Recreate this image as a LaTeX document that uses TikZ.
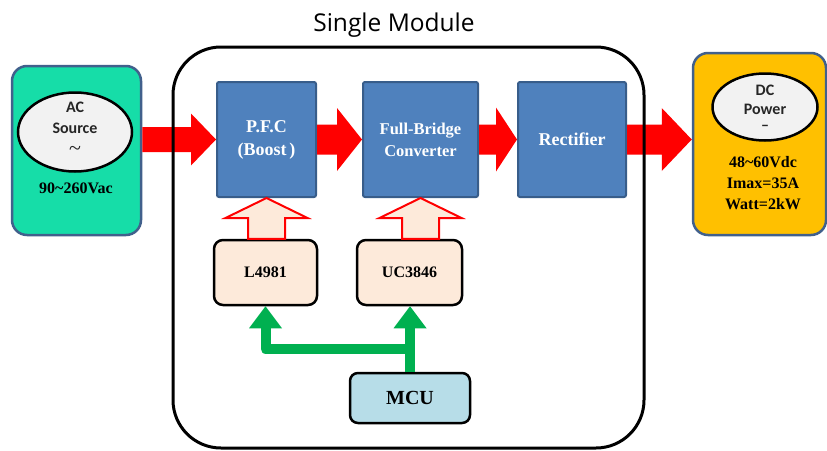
\documentclass[tikz,border=0pt]{standalone}
\usepackage{fontspec}
\setmainfont{Liberation Serif}
\newfontfamily\labelsans{Carlito}
\newfontfamily\titlesans{Open Sans}
\usetikzlibrary{shapes.geometric,calc}

\definecolor{acteal}{RGB}{22,221,168}
\definecolor{dcorange}{RGB}{255,192,0}
\definecolor{outerrim}{RGB}{65,96,140}
\definecolor{blockfill}{RGB}{79,129,189}
\definecolor{blockrim}{RGB}{56,93,138}
\definecolor{powerred}{RGB}{255,0,0}
\definecolor{peach}{RGB}{253,234,218}
\definecolor{ctrlgreen}{RGB}{0,176,80}
\definecolor{mcublue}{RGB}{183,221,232}
\definecolor{ovalgray}{RGB}{242,242,242}

% red power-flow arrow: from node #1 (east) to node #2 (west), centred on node #3,
% shaft half-height #4, head half-height #5, head length #6
\newcommand\powerflow[6]{%
  \fill[powerred] let \p1=(#1.east), \p2=(#2.west), \p3=(#3) in
    (\x1,\y3+#4) -- (\x2-#6,\y3+#4) -- (\x2-#6,\y3+#5) -- (\x2,\y3)
    -- (\x2-#6,\y3-#5) -- (\x2-#6,\y3-#4) -- (\x1,\y3-#4) -- cycle;}

% hollow control arrow: from the top of node #1 up to the bottom of node #2
\newcommand\ctrlup[2]{%
  \draw[powerred, fill=peach, line width=2pt, line join=miter]
    let \p1=(#1.north), \p2=(#2.south) in
    (\x2-18.5pt,\y1) -- (\x2-18.5pt,\y2-20pt) -- (\x2-41pt,\y2-20pt) -- (\x2,\y2)
    -- (\x2+41pt,\y2-20pt) -- (\x2+18.5pt,\y2-20pt) -- (\x2+18.5pt,\y1) -- cycle;}

\begin{document}
\begin{tikzpicture}[x=1pt,y=-1pt,
  srcbox/.style={draw=outerrim, line width=2.5pt, rounded corners=15pt, inner sep=0pt},
  oval/.style={ellipse, draw=black, line width=2.5pt, fill=ovalgray, inner sep=0pt},
  ovaltext/.style={inner sep=0pt, text=black!85, font=\labelsans\bfseries\fontsize{16}{20}\selectfont},
  block/.style={draw=blockrim, line width=2pt, fill=blockfill, rounded corners=2pt,
    inner sep=0pt, minimum height=115pt, align=center, text=white,
    font=\bfseries\fontsize{18}{23}\selectfont},
  chip/.style={draw=black, line width=2.5pt, fill=peach, rounded corners=9pt,
    inner sep=0pt, minimum width=103pt, minimum height=65pt,
    font=\bfseries\fontsize{16}{18}\selectfont},
  greenline/.style={draw=ctrlgreen, line width=10pt, line join=round},
  srctext/.style={align=center, font=\bfseries\fontsize{16}{21}\selectfont}]

\useasboundingbox (0,0) rectangle (827,450);

% outer source and load boxes
\node[srcbox, fill=acteal, minimum width=129pt, minimum height=169pt] (ac) at (76.5,150.5) {};
\node[srcbox, fill=dcorange, minimum width=133pt, minimum height=182pt] (dc) at (759.5,144) {};

% AC source symbol
\node[oval, minimum width=114pt, minimum height=79pt] (acoval) at (75,132) {};
\node[ovaltext] (acname) at (75,107) {AC};
\node[ovaltext] (acword) at (75,128) {Source};
\node[ovaltext, font=\rmfamily\fontsize{22}{22}\selectfont] (actilde) at (75,151) {\textasciitilde};

% DC output symbol
\node[oval, minimum width=105pt, minimum height=67pt] (dcoval) at (765,107) {};
\node[ovaltext] (dcname) at (765,90) {DC};
\node[ovaltext] (dcword) at (765,109) {Power};
\node[ovaltext, anchor=base, text height=7pt, text depth=0pt] (dcdash) at (765,130) {\textendash};

\node[srctext] (acspec) at (76,188) {90\textasciitilde260Vac};
\node[srctext] (dcspec) at (763,183) {48\textasciitilde60Vdc\\Imax=35A\\Watt=2kW};

% power stage blocks
\node[block, minimum width=99pt] (pfc) at (266.5,139.5) {P.F.C\\(Boost\,)};
\node[block, minimum width=115pt, font=\bfseries\fontsize{16.5}{22}\selectfont] (fb) at (420.5,139.5)
  {Full-Bridge\\Converter};
\node[block, minimum width=108pt] (rect) at (572,139.5) {Rectifier};

% power flow
\powerflow{ac}{pfc}{pfc}{12.5pt}{26pt}{25pt}
\powerflow{pfc}{fb}{pfc}{15pt}{31.5pt}{25pt}
\powerflow{fb}{rect}{rect}{15pt}{32pt}{21pt}
\powerflow{rect}{dc}{rect}{15pt}{31.5pt}{30pt}

% module frame and title
\node[draw=black, line width=3pt, rounded corners=48pt, inner sep=0pt,
  minimum width=471pt, minimum height=401pt] (module) at (408.5,247.5) {};
\node[font=\titlesans\fontsize{24.5}{28}\selectfont, anchor=base] (title) at (394,31) {Single Module};

% controllers
\node[chip] (l4) at (265.5,272.5) {L4981};
\node[chip, minimum width=105pt] (uc) at (409.5,272.5) {UC3846};
\node[chip, fill=mcublue, minimum width=120pt, minimum height=50pt, rounded corners=8pt,
  font=\bfseries\fontsize{20}{24}\selectfont] (mcu) at (410,398) {MCU};

\ctrlup{l4}{pfc}
\ctrlup{uc}{fb}

% control signals from the MCU
\coordinate (gsplit) at ($(mcu.north)+(0,-23)$);
\draw[greenline] (mcu.north) -- ($(mcu.north |- uc.south)+(0,21)$);
\draw[greenline] (gsplit) -| ($(l4.south)+(0,21)$);
\fill[ctrlgreen] ($(mcu.north |- uc.south)+(-16.5,22)$) -- (mcu.north |- uc.south)
  -- ($(mcu.north |- uc.south)+(16.5,22)$) -- cycle;
\fill[ctrlgreen] ($(l4.south)+(-16.5,22)$) -- (l4.south) -- ($(l4.south)+(16.5,22)$) -- cycle;
\end{tikzpicture}
\end{document}
